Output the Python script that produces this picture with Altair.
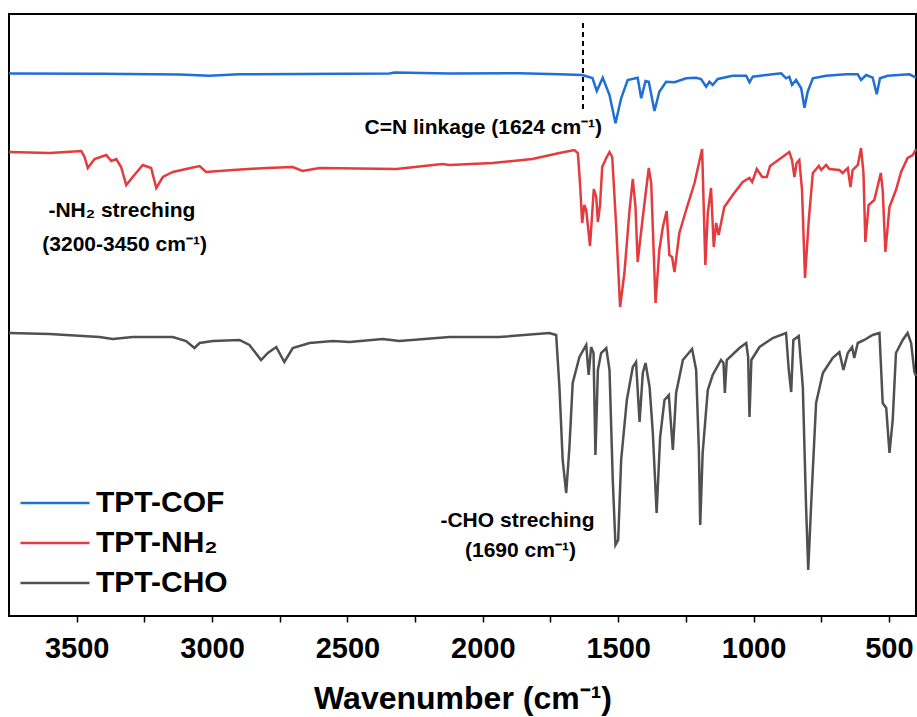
import altair as alt
import pandas as pd

# ---------------- data ----------------
series_names = ["TPT-COF", "TPT-NH₂", "TPT-CHO"]
series_colors = ["#1f6fd6", "#e63b3e", "#505050"]

# TPT-COF (top, blue) — wavenumber (cm-1) and offset transmittance (a.u.)
cof_wn = [3750, 3416, 3120, 3010, 2899, 2677, 2345, 2326, 2123, 1865,
          1717, 1632, 1595, 1579, 1557, 1532, 1510, 1489, 1465, 1428,
          1415, 1399, 1387, 1366, 1348, 1323, 1292, 1249, 1212, 1194,
          1175, 1163, 1151, 1132, 1077, 1027, 1015, 1003, 929, 898,
          880, 868, 858, 843, 824, 812, 800, 781, 732, 658,
          615, 603, 584, 560, 545, 533, 505, 424, 400]
cof_t = [542.5, 542.2, 541.5, 540.3, 541.7, 542, 542.5, 543.5, 542.5, 542.7,
         541.7, 541, 538, 525, 538.3, 521, 492.7, 517.7, 536, 538.3,
         517.7, 535, 534.3, 505, 524.3, 534.3, 533.7, 537.7, 538.3, 537,
         529.3, 534.3, 531, 537, 540.3, 540.3, 533.7, 539.3, 541.7, 542.7,
         537.7, 539.3, 531, 536, 527.7, 508.3, 524.3, 537.7, 540.3, 541.7,
         541.7, 536, 541, 538.3, 521.7, 537.7, 540.3, 541.7, 538.3]

# TPT-NH2 (middle, red)
nh2_wn = [3750, 3600, 3483, 3471, 3459, 3434, 3391, 3372, 3354, 3336,
          3317, 3293, 3256, 3225, 3206, 3182, 3145, 3096, 3046, 3022,
          2923, 2800, 2702, 2666, 2603, 2319, 2149, 2123, 1964, 1817,
          1717, 1662, 1649, 1641, 1633, 1625, 1618, 1604, 1590, 1581,
          1575, 1567, 1559, 1544, 1532, 1522, 1508, 1493, 1477, 1458,
          1446, 1436, 1428, 1409, 1387, 1378, 1362, 1348, 1335, 1321,
          1311, 1301, 1292, 1274, 1249, 1218, 1190, 1178, 1169, 1157,
          1147, 1138, 1129, 1108, 1077, 1040, 1015, 1005, 988, 968,
          951, 939, 868, 858, 849, 841, 831, 821, 810, 796,
          781, 759, 750, 732, 720, 683, 671, 652, 642, 634,
          615, 603, 594, 587, 575, 554, 530, 523, 513, 498,
          474, 455, 431, 412, 400]
nh2_t = [464, 463, 465, 459, 448, 457, 461, 455, 457, 449,
         431, 439, 451, 448, 428, 439, 444, 447, 450, 444,
         446, 448, 449, 445, 448, 447, 452, 451, 453, 457,
         463, 466, 463, 433, 393, 411, 406, 370, 427, 419,
         394, 411, 449, 458, 464, 459, 393, 309, 343, 406,
         437, 409, 354, 399, 448, 433, 313, 366, 389, 405,
         361, 359, 344, 383, 406, 433, 467, 351, 403, 428,
         369, 393, 381, 409, 421, 434, 438, 434, 447, 439,
         439, 450, 464, 456, 439, 453, 456, 426, 338, 396,
         443, 450, 446, 451, 447, 446, 443, 448, 429, 446,
         451, 468, 443, 374, 411, 416, 443, 426, 364, 409,
         426, 444, 458, 461, 467]

# TPT-CHO (bottom, dark grey)
cho_wn = [3750, 3600, 3416, 3367, 3293, 3145, 3096, 3065, 3046, 2997,
          2899, 2862, 2819, 2794, 2763, 2733, 2702, 2640, 2554, 2492,
          2370, 2308, 2123, 1939, 1754, 1729, 1717, 1705, 1692, 1680,
          1668, 1643, 1618, 1609, 1600, 1591, 1584, 1575, 1563, 1544,
          1532, 1520, 1510, 1500, 1489, 1468, 1446, 1434, 1421, 1409,
          1399, 1384, 1372, 1358, 1345, 1329, 1313, 1298, 1286, 1261,
          1227, 1212, 1202, 1197, 1188, 1169, 1151, 1120, 1111, 1106,
          1099, 1052, 1027, 1020, 1015, 1008, 978, 929, 880, 870,
          861, 853, 833, 818, 806, 798, 787, 769, 744, 708,
          683, 668, 652, 636, 628, 615, 591, 560, 535, 523,
          510, 498, 486, 474, 449, 431, 418, 406, 400]
cho_t = [283, 282, 279, 277, 279, 279, 275, 268, 273, 275,
         276, 271, 256, 263, 269, 254, 268, 273, 275, 274,
         277, 275, 279, 279, 283, 281, 229, 156, 123, 169,
         233, 259, 271, 241, 269, 263, 161, 246, 263, 268,
         246, 136, 71, 76, 156, 216, 249, 254, 194, 243,
         253, 229, 183, 103, 179, 216, 221, 166, 223, 256,
         267, 246, 166, 91, 163, 226, 241, 256, 253, 223,
         256, 268, 273, 259, 199, 256, 269, 278, 283, 246,
         224, 276, 280, 229, 109, 46, 113, 213, 243, 258,
         264, 246, 263, 269, 258, 273, 276, 281, 283, 213,
         208, 163, 196, 263, 276, 283, 273, 244, 240]

tick_values = [3500, 3250, 3000, 2750, 2500, 2250, 2000, 1750, 1500, 1250, 1000, 750, 500]

# dashed marker of the C=N band
marker_wn = [1630]
marker_top = [593]
marker_bottom = [506]

# annotations (text, wavenumber position, signal position)
note_text = ["C=N linkage (1624 cm⁻¹)", "-NH₂ streching", "(3200-3450 cm⁻¹)",
             "-CHO streching", "(1690 cm⁻¹)"]
note_wn = [1998, 3333, 3323, 1872, 1861]
note_t = [482, 399, 365, 89, 59]

# ---------------- build tables ----------------
rows = []
for name, wns, ts in [(series_names[0], cof_wn, cof_t),
                      (series_names[1], nh2_wn, nh2_t),
                      (series_names[2], cho_wn, cho_t)]:
    for w, t in zip(wns, ts):
        rows.append({"series": name, "wavenumber": w, "signal": t})
df = pd.DataFrame(rows)

marker_df = pd.DataFrame({"wavenumber": marker_wn, "top": marker_top, "bottom": marker_bottom})
notes_df = pd.DataFrame({"text": note_text, "wavenumber": note_wn, "signal": note_t})

FONT = "Liberation Sans"

x_scale = alt.Scale(domain=[400, 3750], reverse=True, nice=False, zero=False)
y_scale = alt.Scale(domain=[0, 602], nice=False, zero=False)

x_axis = alt.Axis(
    values=tick_values,
    format="d",
    labelExpr="datum.value % 500 === 0 ? datum.label : ''",
    labelFont=FONT, labelFontSize=29, labelFontWeight="bold", labelColor="black",
    labelPadding=12, labelFlush=False, labelOverlap=False,
    tickColor="black", tickSize=6, tickWidth=1.5,
    domain=False, grid=False,
    titleFont=FONT, titleFontSize=32, titleFontWeight="bold", titleColor="black",
    titlePadding=20,
)

# long horizontal stroke as legend symbol (path in unit box, stretched)
legend_path = "M-2.875,0H2.875"

lines = alt.Chart(df).mark_line(strokeWidth=2.5).encode(
    x=alt.X("wavenumber:Q", scale=x_scale, axis=x_axis, title="Wavenumber (cm⁻¹)"),
    y=alt.Y("signal:Q", scale=y_scale, axis=None),
    color=alt.Color(
        "series:N",
        scale=alt.Scale(domain=series_names, range=series_colors),
        legend=alt.Legend(
            title=None, orient="none", legendX=31, legendY=474,
            symbolType=legend_path, symbolSize=576, symbolStrokeWidth=2.5,
            labelFont=FONT, labelFontSize=30, labelFontWeight="bold", labelColor="black",
            labelOffset=26, rowPadding=10, padding=0,
        ),
    ),
)

marker = alt.Chart(marker_df).mark_rule(color="black", strokeWidth=2, strokeDash=[5, 4]).encode(
    x="wavenumber:Q",
    y="top:Q",
    y2="bottom:Q",
)

notes = alt.Chart(notes_df).mark_text(
    font=FONT, fontSize=21, fontWeight="bold", color="black", align="center", baseline="alphabetic"
).encode(
    x="wavenumber:Q",
    y="signal:Q",
    text="text:N",
)

chart = alt.layer(lines, marker, notes).properties(
    width=907,
    height=602,
    autosize=alt.AutoSizeParams(type="none"),
    padding={"left": 9, "top": 14, "right": 1, "bottom": 101},
    background="white",
).configure_view(
    stroke="black", strokeWidth=2,
)

chart.save("out.html", embed_options={"renderer": "svg", "actions": False})
